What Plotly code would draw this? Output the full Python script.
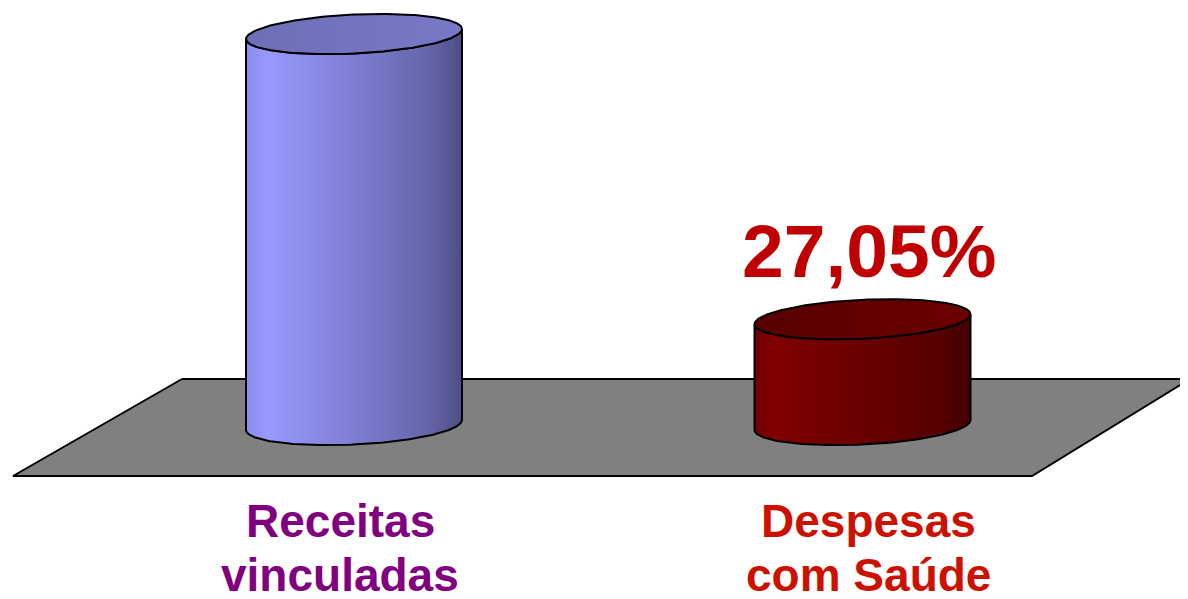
import numpy as np
import plotly.graph_objects as go

# ---------------- data ----------------
categories = ["Receitas vinculadas", "Despesas com Saúde"]
category_lines = [["Receitas", "vinculadas"], ["Despesas", "com Saúde"]]
values = [100.0, 27.05]
value_labels = ["", "27,05%"]

# ---------------- styling ----------------
W, H = 1188, 599
PAGE_OFFSET = 8.0                    # default body margin of the html page
X0_PX, PX_PER_X = 354.0, 508.5      # window pixel of category 0 and pixels per category step
Y0_PX, PX_PER_Y = 425.0, 3.91       # window pixel of value 0 and pixels per percent

side_scales = [
    [[0.0, "#8C8CEC"], [0.1, "#9999FF"], [0.5, "#7E7ED2"], [0.85, "#6464A8"], [1.0, "#4E4E84"]],
    [[0.0, "#700000"], [0.1, "#800000"], [0.5, "#690000"], [0.85, "#560000"], [1.0, "#440000"]],
]
top_scales = [
    [[0.0, "#6E6EB8"], [1.0, "#7878C6"]],
    [[0.0, "#580000"], [1.0, "#6C0000"]],
]
label_colors = ["#800080", "#CC1100"]
label_shift_px = [-14, 6]
value_color = "#C00000"
FONT = "Liberation Sans, Arial, sans-serif"

RX = 108.0 / PX_PER_X
RY = 19.5 / PX_PER_Y
TILT = 5.0 / PX_PER_Y


def px_x(p):
    """window pixel -> x data"""
    return (p - X0_PX) / PX_PER_X


def px_y(p):
    """window pixel -> y data"""
    return (Y0_PX - p) / PX_PER_Y


fig = go.Figure()

# floor
floor_px = [(182, 379), (1190, 379), (1032, 476), (13, 476), (182, 379)]
fig.add_trace(go.Scatter(
    x=[px_x(a) for a, b in floor_px], y=[px_y(b) for a, b in floor_px],
    mode="lines", fill="toself", fillcolor="#808080",
    line=dict(color="black", width=2), hoverinfo="skip", showlegend=False))


def ellipse(xc, yc, t):
    return xc + RX * np.cos(t), yc + RY * np.sin(t) + TILT * np.cos(t)


for i, (cat, v) in enumerate(zip(categories, values)):
    xc = float(i)
    t_front = np.linspace(np.pi, 2 * np.pi, 120)
    tx, ty = ellipse(xc, v, t_front)
    bx, by = ellipse(xc, 0.0, t_front[::-1])
    sx = np.concatenate([tx, bx, tx[:1]])
    sy = np.concatenate([ty, by, ty[:1]])
    fig.add_trace(go.Scatter(
        x=sx, y=sy, mode="lines", fill="toself",
        fillgradient=dict(type="horizontal", colorscale=side_scales[i],
                          start=xc - RX, stop=xc + RX),
        line=dict(color="black", width=2), hoverinfo="skip", showlegend=False))
    t_all = np.linspace(0, 2 * np.pi, 240)
    ex, ey = ellipse(xc, v, t_all)
    fig.add_trace(go.Scatter(
        x=ex, y=ey, mode="lines", fill="toself",
        fillgradient=dict(type="horizontal", colorscale=top_scales[i],
                          start=xc - RX, stop=xc + RX),
        line=dict(color="black", width=2), hoverinfo="skip", showlegend=False))

    if value_labels[i]:
        fig.add_annotation(
            x=xc, y=v + 68.0 / PX_PER_Y, text=value_labels[i], showarrow=False,
            xanchor="center", yanchor="middle", xshift=6,
            font=dict(family=FONT, size=75, color=value_color, weight="bold"))

    for j, line in enumerate(category_lines[i]):
        fig.add_annotation(
            x=xc, y=px_y(521 + 54 * j), text=line, showarrow=False,
            xanchor="center", yanchor="middle", xshift=label_shift_px[i],
            font=dict(family=FONT, size=46, color=label_colors[i], weight="bold"))

fig.update_layout(
    width=W, height=H, margin=dict(l=0, r=0, t=0, b=0),
    paper_bgcolor="white", plot_bgcolor="white", showlegend=False,
    xaxis=dict(range=[px_x(PAGE_OFFSET), px_x(PAGE_OFFSET + W)], visible=False, fixedrange=True),
    yaxis=dict(range=[px_y(PAGE_OFFSET + H), px_y(PAGE_OFFSET)], visible=False, fixedrange=True),
)

fig.write_html("out.html")
